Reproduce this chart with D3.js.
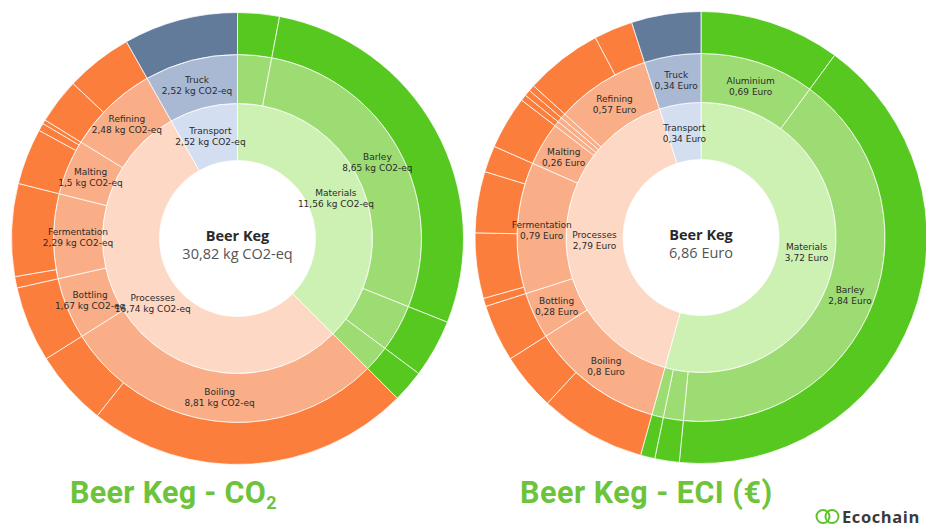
<!DOCTYPE html>
<html><head><meta charset="utf-8">
<script src="https://cdn.jsdelivr.net/npm/d3@7"></script>
<style>
html,body{margin:0;padding:0;background:#fff;}
svg{display:block;font-family:"Open Sans","Noto Sans",sans-serif;}
</style></head><body>
<svg id="chart" width="926" height="526"></svg>
<script>
// ---------- DATA ----------
const groupNames = ["Materials", "Processes", "Transport"];

// CO2 chart (kg CO2-eq)
const co2Total = 30.82;
const co2GroupValues = [11.56, 16.74, 2.52];
const co2ItemNames  = [null, "Barley", null, null, "Boiling", "Bottling", "Fermentation", "Malting", "Refining", "Truck"];
const co2ItemGroup  = [0, 0, 0, 0, 1, 1, 1, 1, 1, 2];
const co2ItemValues = [0.92, 8.65, 1.28, 0.71, 8.81, 1.67, 2.29, 1.5, 2.48, 2.52];
const co2SubValues  = [[0.92], [8.65], [1.28], [0.71], [7.14, 1.67], [1.67], [0.25, 2.04], [1.24, 0.17, 0.09], [1.0, 1.48], [2.52]];

// ECI chart (Euro)
const eciTotal = 6.86;
const eciGroupValues = [3.72, 2.79, 0.34];
const eciItemNames  = ["Aluminium", "Barley", null, null, "Boiling", "Bottling", "Fermentation", "Malting", null, null, null, "Refining", "Truck"];
const eciItemGroup  = [0, 0, 0, 0, 1, 1, 1, 1, 1, 1, 1, 1, 2];
const eciItemValues = [0.69, 2.84, 0.12, 0.07, 0.8, 0.28, 0.79, 0.26, 0.03, 0.03, 0.03, 0.57, 0.34];
const eciSubValues  = [[0.69], [2.84], [0.12], [0.07], [0.52, 0.28], [0.28], [0.04, 0.32, 0.30, 0.13], [0.26], [0.03], [0.03], [0.03], [0.38, 0.19], [0.34]];

// ---------- STYLE ----------
const palette = [
  ["#cdf0b3", "#9ddc72", "#56c820"],   // Materials
  ["#fdd8c5", "#f9ae87", "#fb7e3d"],   // Processes
  ["#d3def0", "#aab9d3", "#637b9a"]    // Transport
];
const ringRadii = [78, 135, 184, 226];

function buildTree(groupValues, itemNames, itemGroup, itemValues, subValues) {
  const root = { name: "Beer Keg", children: groupNames.map((g, i) => ({ name: g, label: groupValues[i], group: i, children: [] })) };
  itemNames.forEach((n, i) => {
    root.children[itemGroup[i]].children.push({
      name: n, label: itemValues[i], group: itemGroup[i],
      children: subValues[i].map(v => ({ name: null, value: v, group: itemGroup[i] }))
    });
  });
  return root;
}

const fmt = v => String(v).replace(".", ",");
const svg = d3.select("#chart");

function drawSunburst(cx, cy, tree, unit, total) {
  const root = d3.hierarchy(tree).sum(d => d.value || 0);
  d3.partition().size([2 * Math.PI, 4])(root);
  const rScale = d3.scaleLinear().domain([1, 2, 3, 4]).range(ringRadii);
  const arc = d3.arc()
    .startAngle(d => d.x0).endAngle(d => d.x1)
    .innerRadius(d => rScale(d.y0)).outerRadius(d => rScale(d.y1));

  const g = svg.append("g").attr("transform", `translate(${cx},${cy})`);
  const nodes = root.descendants().filter(d => d.depth > 0);
  g.selectAll("path").data(nodes).join("path")
    .attr("d", arc)
    .attr("fill", d => palette[d.data.group][d.depth - 1])
    .attr("stroke", "#ffffff")
    .attr("stroke-opacity", 0.75)
    .attr("stroke-width", 1);

  const labeled = nodes.filter(d => d.depth <= 2 && d.data.name);
  const t = g.selectAll("text.lab").data(labeled).join("text")
    .attr("class", "lab")
    .attr("text-anchor", "middle")
    .attr("font-family", "'DejaVu Sans', sans-serif")
    .attr("font-size", 9)
    .attr("fill", "#2b2b2b")
    .attr("transform", d => `translate(${arc.centroid(d)})`);
  t.append("tspan").attr("x", 0).attr("y", -1.5).text(d => d.data.name);
  t.append("tspan").attr("x", 0).attr("y", 9.5).text(d => fmt(d.data.label) + " " + unit);

  g.append("text").attr("text-anchor", "middle").attr("y", 2)
    .attr("font-size", 14.5).attr("font-weight", 700).attr("fill", "#2a2a2a").text("Beer Keg");
  g.append("text").attr("text-anchor", "middle").attr("y", 20)
    .attr("font-size", 14.5).attr("fill", "#555").text(fmt(total) + " " + unit);
}

drawSunburst(237.5, 238.5, buildTree(co2GroupValues, co2ItemNames, co2ItemGroup, co2ItemValues, co2SubValues), "kg CO2-eq", co2Total);
drawSunburst(701, 237.5, buildTree(eciGroupValues, eciItemNames, eciItemGroup, eciItemValues, eciSubValues), "Euro", eciTotal);

// Titles
const titleColor = "#6ec33c";
const t1 = svg.append("text").attr("x", 70).attr("y", 503)
  .attr("font-family", "Roboto, sans-serif").attr("font-weight", 700).attr("font-size", 30.5)
  .attr("letter-spacing", 0.3).attr("fill", titleColor);
t1.append("tspan").text("Beer Keg - CO");
t1.append("tspan").attr("font-size", 18).attr("dy", 6).text("2");

svg.append("text").attr("x", 520).attr("y", 503)
  .attr("font-family", "Roboto, sans-serif").attr("font-weight", 700).attr("font-size", 30.5)
  .attr("letter-spacing", 0.5).attr("fill", titleColor)
  .text("Beer Keg - ECI (€)");

// Ecochain logo
const logo = svg.append("g");
logo.append("circle").attr("cx", 823).attr("cy", 516.5).attr("r", 6.5).attr("fill", "none").attr("stroke", "#5cc42a").attr("stroke-width", 2);
logo.append("circle").attr("cx", 832).attr("cy", 516.5).attr("r", 6.5).attr("fill", "none").attr("stroke", "#5cc42a").attr("stroke-width", 2);
logo.append("text").attr("x", 842).attr("y", 522.5).attr("font-size", 16.5).attr("font-weight", 700)
  .attr("letter-spacing", 0.6).attr("fill", "#3a3a3a").text("Ecochain");
</script>
</body></html>
